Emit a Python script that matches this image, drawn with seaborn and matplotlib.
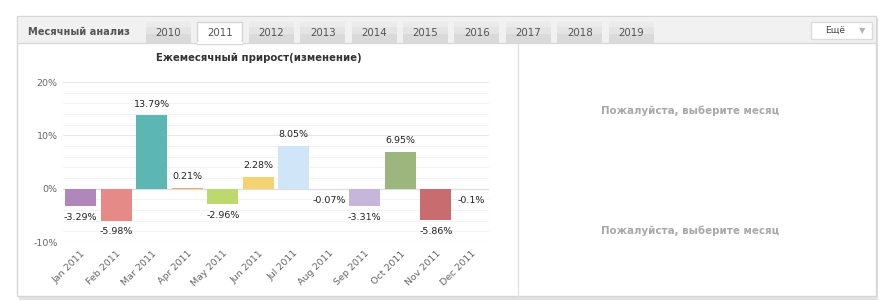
import seaborn as sns
import matplotlib.pyplot as plt
from matplotlib.patches import Rectangle
import numpy as np

# data
months = ['Jan 2011', 'Feb 2011', 'Mar 2011', 'Apr 2011', 'May 2011', 'Jun 2011',
          'Jul 2011', 'Aug 2011', 'Sep 2011', 'Oct 2011', 'Nov 2011', 'Dec 2011']
changes = [-3.29, -5.98, 13.79, 0.21, -2.96, 2.28, 8.05, -0.07, -3.31, 6.95, -5.86, -0.10]
value_labels = ['-3.29%', '-5.98%', '13.79%', '0.21%', '-2.96%', '2.28%',
                '8.05%', '-0.07%', '-3.31%', '6.95%', '-5.86%', '-0.1%']
bar_colors = ['#b087bb', '#e68a88', '#5bb6b4', '#e9a86c', '#bdd86c', '#f4d372',
              '#d0e6f8', '#e8b8a8', '#c6b6da', '#9cb67d', '#c96c70', '#d9c9a8']
y_ticks = [-10, 0, 10, 20]
y_tick_labels = ['-10%', '0%', '10%', '20%']
years = ['2010', '2011', '2012', '2013', '2014', '2015', '2016', '2017', '2018', '2019']
selected_year = '2011'

sns.set_style("white")
plt.rcParams['font.family'] = ['DejaVu Sans']

W, H = 885, 301
fig = plt.figure(figsize=(W / 100, H / 100), dpi=100)
fig.patch.set_facecolor('white')

# page / widget chrome drawn in pixel coords
ui = fig.add_axes([0, 0, 1, 1], zorder=0)
ui.set_xlim(0, W)
ui.set_ylim(H, 0)
ui.axis('off')

ui.add_patch(Rectangle((19, 18), 859, 282, fc='#e2e2e2', ec='none'))  # shadow
ui.add_patch(Rectangle((17, 16), 859, 280, fc='white', ec='#d6d6d6', lw=1))
ui.add_patch(Rectangle((17.5, 16.5), 858, 26.5, fc='#f1f1f1', ec='none'))
ui.plot([17.5, 875.5], [43, 43], color='#d9d9d9', lw=1)
ui.text(28, 32, 'Месячный анализ', fontsize=7.1, fontweight='bold', color='#555555', va='center')

for i, yr in enumerate(years):
    x0 = 146 + i * 51.4
    if yr == selected_year:
        ui.add_patch(Rectangle((x0, 22), 45, 21.6, fc='white', ec='#d6d6d6', lw=1))
        ui.plot([x0 + 0.5, x0 + 44.5], [43, 43], color='white', lw=1.5)
    else:
        ui.add_patch(Rectangle((x0, 22), 45, 21, fc='#dadada', ec='none'))
        ui.add_patch(Rectangle((x0, 22), 45, 12, fc='#e4e4e4', ec='none'))
        ui.add_patch(Rectangle((x0, 22), 45, 5, fc='#ebebeb', ec='none'))
    ui.text(x0 + 22.5, 32.5, yr, fontsize=7.4, color='#555555', ha='center', va='center')

ui.add_patch(Rectangle((811, 22), 61, 17, fc='white', ec='#dcdcdc', lw=1))
ui.text(835, 30.5, 'Ещё', fontsize=6.6, color='#444444', ha='center', va='center')
ui.text(862, 30.5, '▼', fontsize=6, color='#b5b5b5', ha='center', va='center')

ui.plot([518, 518], [44, 296], color='#e2e2e2', lw=1)
ui.text(259, 58, 'Ежемесячный прирост(изменение)', fontsize=7.3, fontweight='bold',
        color='#333333', ha='center', va='center')
for ty in (111, 231):
    ui.text(690, ty, 'Пожалуйста, выберите месяц', fontsize=7.4, fontweight='bold',
            color='#a8a8a8', ha='center', va='center')

# chart
ax = fig.add_axes([63 / W, (H - 242) / H, 426 / W, 160 / H], zorder=1)
ax.set_facecolor('none')
sns.barplot(x=months, y=changes, hue=months, palette=bar_colors, legend=False,
            width=0.88, saturation=1, linewidth=0, edgecolor='none', ax=ax, zorder=3)
ax.set_ylim(-10, 20)
ax.set_xlim(-0.5, len(months) - 0.5)
ax.set_yticks(y_ticks)
ax.set_yticklabels(y_tick_labels)
ax.set_yticks(np.arange(-8, 20, 2), minor=True)
ax.grid(axis='y', which='minor', color='#f3f3f3', lw=0.8, zorder=0)
ax.grid(axis='y', which='major', color='#e6e6e6', lw=0.8, zorder=0)
ax.axhline(0, color='#dddddd', lw=0.8, zorder=1)
for s in ax.spines.values():
    s.set_visible(False)
ax.tick_params(axis='y', length=0, pad=4, labelsize=6.8, labelcolor='#666666')
ax.tick_params(axis='x', length=0, pad=5, labelsize=6.8, labelcolor='#666666')
plt.setp(ax.get_xticklabels(), rotation=45, ha='right', va='top', rotation_mode='anchor')

for i, (v, lab) in enumerate(zip(changes, value_labels)):
    off = 8 if v >= 0 else -8
    ax.annotate(lab, (i, v), xytext=(0, off), textcoords='offset points',
                ha='center', va='center', fontsize=6.8, color='#222222', zorder=4)

fig.savefig('out.png', dpi=100)
